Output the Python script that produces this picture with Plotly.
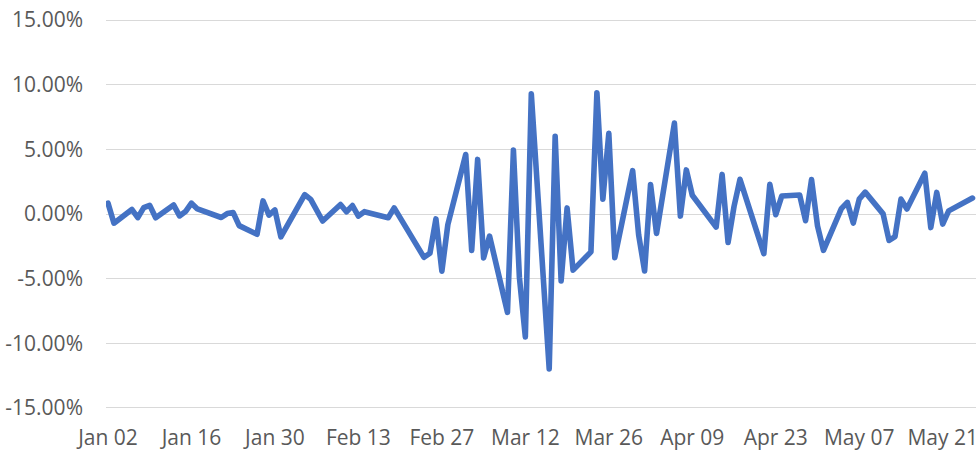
import plotly.graph_objects as go

dates = [
    "2020-01-02", "2020-01-03", "2020-01-06", "2020-01-07", "2020-01-08", "2020-01-09", "2020-01-10",
    "2020-01-13", "2020-01-14", "2020-01-15", "2020-01-16", "2020-01-17",
    "2020-01-21", "2020-01-22", "2020-01-23", "2020-01-24",
    "2020-01-27", "2020-01-28", "2020-01-29", "2020-01-30", "2020-01-31",
    "2020-02-03", "2020-02-04", "2020-02-05", "2020-02-06", "2020-02-07",
    "2020-02-10", "2020-02-11", "2020-02-12", "2020-02-13", "2020-02-14",
    "2020-02-18", "2020-02-19", "2020-02-20", "2020-02-21",
    "2020-02-24", "2020-02-25", "2020-02-26", "2020-02-27", "2020-02-28",
    "2020-03-02", "2020-03-03", "2020-03-04", "2020-03-05", "2020-03-06",
    "2020-03-09", "2020-03-10", "2020-03-11", "2020-03-12", "2020-03-13",
    "2020-03-16", "2020-03-17", "2020-03-18", "2020-03-19", "2020-03-20",
    "2020-03-23", "2020-03-24", "2020-03-25", "2020-03-26", "2020-03-27",
    "2020-03-30", "2020-03-31", "2020-04-01", "2020-04-02", "2020-04-03",
    "2020-04-06", "2020-04-07", "2020-04-08", "2020-04-09",
    "2020-04-13", "2020-04-14", "2020-04-15", "2020-04-16", "2020-04-17",
    "2020-04-20", "2020-04-21", "2020-04-22", "2020-04-23", "2020-04-24",
    "2020-04-27", "2020-04-28", "2020-04-29", "2020-04-30", "2020-05-01",
    "2020-05-04", "2020-05-05", "2020-05-06", "2020-05-07", "2020-05-08",
    "2020-05-11", "2020-05-12", "2020-05-13", "2020-05-14", "2020-05-15",
    "2020-05-18", "2020-05-19", "2020-05-20", "2020-05-21", "2020-05-22",
    "2020-05-26",
]

returns_pct = [
    0.84, -0.71, 0.35, -0.28, 0.49, 0.67, -0.29,
    0.70, -0.15, 0.19, 0.84, 0.39,
    -0.27, 0.03, 0.11, -0.90,
    -1.57, 1.01, -0.09, 0.31, -1.77,
    0.73, 1.50, 1.13, 0.33, -0.54,
    0.73, 0.17, 0.65, -0.16, 0.18,
    -0.29, 0.47, -0.38, -1.05,
    -3.35, -3.03, -0.38, -4.42, -0.82,
    4.60, -2.81, 4.22, -3.39, -1.71,
    -7.60, 4.94, -4.89, -9.51, 9.29,
    -11.98, 6.00, -5.18, 0.47, -4.34,
    -2.93, 9.38, 1.15, 6.24, -3.37,
    3.35, -1.60, -4.41, 2.28, -1.51,
    7.03, -0.16, 3.41, 1.45,
    -1.01, 3.06, -2.20, 0.58, 2.68,
    -1.79, -3.07, 2.29, -0.05, 1.39,
    1.47, -0.52, 2.66, -0.92, -2.81,
    0.42, 0.90, -0.70, 1.15, 1.69,
    0.01, -2.05, -1.75, 1.15, 0.39,
    3.15, -1.05, 1.67, -0.78, 0.24,
    1.23,
]

x_tick_dates = ["2020-01-02", "2020-01-16", "2020-01-30", "2020-02-13", "2020-02-27", "2020-03-12",
                "2020-03-26", "2020-04-09", "2020-04-23", "2020-05-07", "2020-05-21"]
x_tick_labels = ["Jan 02", "Jan 16", "Jan 30", "Feb 13", "Feb 27", "Mar 12",
                 "Mar 26", "Apr 09", "Apr 23", "May 07", "May 21"]

y_tick_vals = [-15, -10, -5, 0, 5, 10, 15]
y_tick_labels = ["-15.00%", "-10.00%", "-5.00%", "0.00%", "5.00%", "10.00%", "15.00%"]

fig = go.Figure()
fig.add_trace(go.Scatter(
    x=dates, y=returns_pct, mode="lines",
    line=dict(color="#4472C4", width=5.6),
    hoverinfo="skip", showlegend=False,
))

font = dict(family="Open Sans, Noto Sans, sans-serif", size=21, color="#595959")

fig.update_layout(
    width=980, height=451,
    margin=dict(l=106, r=4, t=19, b=42, pad=0),
    paper_bgcolor="white", plot_bgcolor="white",
    font=font,
    xaxis=dict(
        type="date", automargin=False,
        range=["2020-01-01 16:00", "2020-05-26 14:00"],
        tickvals=x_tick_dates, ticktext=x_tick_labels,
        showgrid=False, zeroline=False, showline=False,
        ticks="", ticklabelstandoff=14,
        tickfont=font,
    ),
    yaxis=dict(
        automargin=False,
        range=[-15.08, 15.08],
        tickvals=y_tick_vals, ticktext=y_tick_labels,
        showgrid=True, gridcolor="#D9D9D9", gridwidth=1.3,
        zeroline=False, showline=False,
        ticks="", ticklabelstandoff=22,
        tickfont=font,
    ),
)

post = """
document.body.style.margin='0';
document.body.style.overflow='hidden';
document.querySelectorAll('.scatterlayer path.js-line').forEach(function(p){
  p.style.strokeLinejoin='round'; p.style.strokeLinecap='round';
});
"""
fig.write_html("out.html", post_script=post, config={"displayModeBar": False})
